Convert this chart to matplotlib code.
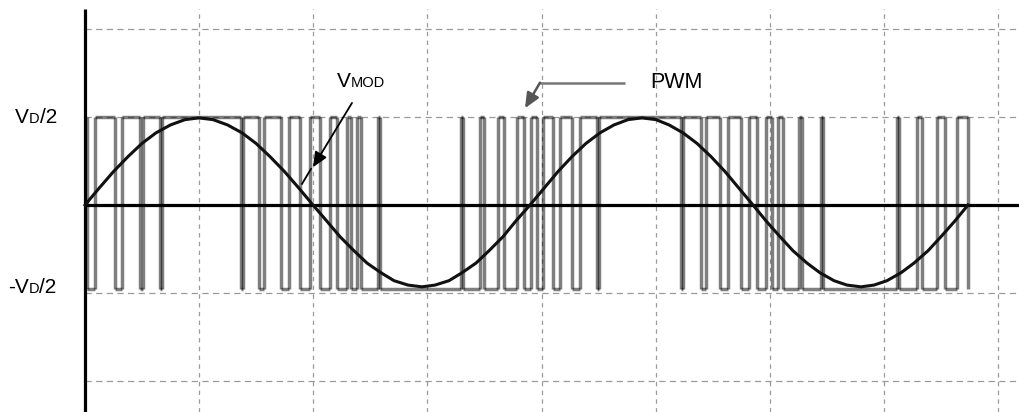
import matplotlib
matplotlib.use("Agg")
import matplotlib.pyplot as plt
from matplotlib.collections import LineCollection

plt.rcParams['font.family'] = ['Liberation Sans', 'DejaVu Sans']

# ---- data (time in arbitrary units, grid spacing = 114.14; amplitude in units of VD/2)
grid_step = 114.14
x_grid = [1, 2, 3, 4, 5, 6, 7, 8]
y_grid = [2, 1, -1, -2]

# modulating signal samples
mod_t = [0, 14, 28.5, 43, 57, 71, 85.5, 100, 114, 128, 142.5, 157, 171, 185, 199.5, 214, 228,
         241.6, 255, 269, 282, 296, 309, 323, 337, 350, 364, 377, 391, 404, 418, 431, 445,
         459, 473, 487, 501, 515, 529, 543, 557, 571, 584, 598, 612, 626, 640, 654, 668,
         681, 695, 708, 722, 735, 749, 762, 776, 789, 802, 816, 829, 843, 856, 870, 883]
mod_v = [0, 0.19, 0.38, 0.55, 0.70, 0.82, 0.91, 0.97, 0.99, 0.97, 0.91, 0.82, 0.70, 0.55, 0.38, 0.19, 0,
         -0.18, -0.36, -0.52, -0.66, -0.77, -0.86, -0.91, -0.93, -0.91, -0.86, -0.77, -0.66, -0.52, -0.36, -0.18, 0,
         0.19, 0.38, 0.55, 0.70, 0.82, 0.91, 0.97, 0.99, 0.97, 0.91, 0.82, 0.70, 0.55, 0.38, 0.19, 0,
         -0.18, -0.36, -0.52, -0.66, -0.77, -0.86, -0.91, -0.93, -0.91, -0.86, -0.77, -0.66, -0.52, -0.36, -0.18, 0]

# PWM switching instants (level starts high, toggles at each instant)
pwm_edges = [2, 10, 30, 37, 55, 58, 75, 77, 156, 158, 174, 179, 196, 204, 215, 225,
             235, 245, 252, 262, 266, 272, 276, 293, 295, 376, 378, 395, 399, 413, 419,
             432, 439, 446, 452, 458, 468, 475, 487, 495, 512, 514, 596, 598, 616, 621,
             635, 643, 656, 664, 672, 681, 687, 693, 698, 714, 717, 736, 738, 812, 814,
             832, 837, 852, 860, 872, 883]
pwm_high = 1.0
pwm_low = -0.95

labels = {"vd_pos": ("V", "D", "/2"), "vd_neg": ("-V", "D", "/2"),
          "vmod": ("V", "MOD"), "pwm": ("PWM",)}

# ---- figure
fig = plt.figure(figsize=(10.19, 4.12), dpi=100)
ax = fig.add_axes([0, 0, 1, 1])
ax.set_xlim(-85, 934)
ax.set_ylim(-207 / 88, 205 / 88)
ax.axis('off')

gcol = '#9a9a9a'
for g in y_grid:
    ax.plot([0, 934], [g, g], color=gcol, lw=0.9, ls=(0, (5, 3.5)), zorder=1)
for k in x_grid:
    ax.plot([k * grid_step] * 2, [-207 / 88, 196 / 88], color=gcol, lw=0.9,
            ls=(0, (3.5, 3.5)), zorder=1)

# PWM segments drawn individually so that overlaps darken
segs = []
level = pwm_high
prev = pwm_edges[0]
for i, e in enumerate(pwm_edges):
    if i > 0:
        segs.append([(prev, level), (e, level)])
    new = pwm_low if level == pwm_high else pwm_high
    segs.append([(e, level), (e, new)])
    level = new
    prev = e
lc = LineCollection(segs, colors='black', linewidths=2.5, alpha=0.5,
                    capstyle='butt', zorder=2)
ax.add_collection(lc)

# axes lines
ax.plot([0, 934], [0, 0], color='black', lw=2.3, zorder=4, solid_capstyle='butt')
ax.plot([0, 0], [-207 / 88, 196 / 88], color='black', lw=2.3, zorder=4,
        solid_capstyle='butt')

# modulating sine
ax.plot(mod_t, mod_v, color='#111111', lw=2.2, zorder=5, solid_joinstyle='round')


def chain(x, y, parts, big=15, small=10.5):
    t = ax.text(x, y, parts[0], fontsize=big, ha='left', va='baseline', zorder=6)
    prev = t
    for j, p in enumerate(parts[1:]):
        sz = small if j % 2 == 0 else big
        prev = ax.annotate(p, xy=(1, 0), xycoords=prev, xytext=(0, 1 if sz == small else -1),
                           textcoords='offset points', fontsize=sz, ha='left',
                           va='bottom', zorder=6)


chain(-70, 0.93, labels["vd_pos"])
chain(-77, -1.0, labels["vd_neg"])
chain(252, 1.34, labels["vmod"])
ax.text(565, 1.33, labels["pwm"][0], fontsize=15.5, ha='left', va='baseline')

# VMOD arrow
ax.plot([226, 217], [0.41, 0.24], color='black', lw=1.3, zorder=6)
ax.annotate('', xy=(228, 0.43), xytext=(267, 1.16),
            arrowprops=dict(arrowstyle='-|>,head_length=0.9,head_width=0.4',
                            color='black', lw=1.3, shrinkA=0, shrinkB=0), zorder=6)

# PWM arrow
ax.plot([540, 455], [1.39, 1.39], color='#777777', lw=1.8, zorder=6,
        solid_capstyle='butt')
ax.annotate('', xy=(440, 1.10), xytext=(455, 1.39),
            arrowprops=dict(arrowstyle='-|>,head_length=0.9,head_width=0.4',
                            color='#555555', lw=1.8, shrinkA=0, shrinkB=0), zorder=6)

fig.savefig('out.png', dpi=100, facecolor='white')
